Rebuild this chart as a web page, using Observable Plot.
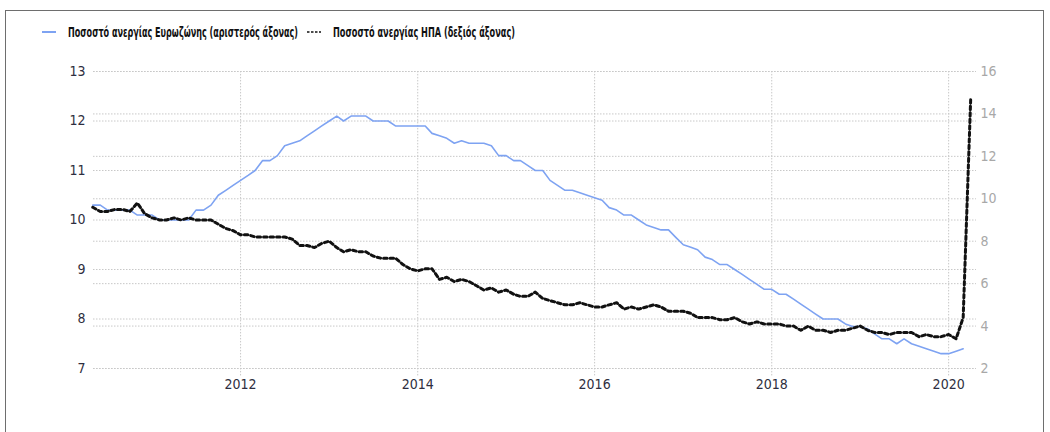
<!DOCTYPE html>
<html><head><meta charset="utf-8">
<script src="https://cdn.jsdelivr.net/npm/d3@7"></script>
<script src="https://cdn.jsdelivr.net/npm/@observablehq/plot@0.6"></script>
<style>
body{margin:0;background:#fff;}
#wrap{position:relative;width:1050px;height:432px;overflow:hidden;font-family:"DejaVu Sans Condensed","Liberation Sans",Arial,sans-serif;}
#frame{position:absolute;left:5px;top:10px;width:1037px;height:440px;border:1.5px solid #6e6e6e;border-bottom:none;pointer-events:none;}
#legend{position:absolute;left:0;top:0;height:50px;width:1050px;}
.item{position:absolute;top:23px;height:18px;font-weight:bold;font-size:14px;color:#111;white-space:nowrap;display:flex;align-items:center;}
.item svg{margin-right:12px;flex:none;}
.item span{display:inline-block;transform-origin:0 50%;}
#chart{position:absolute;left:0;top:50px;}
</style></head>
<body>
<div id="wrap">
  <div id="legend">
    <div class="item" style="left:42px"><svg width="14" height="4"><line x1="0" y1="2" x2="14" y2="2" stroke="#7ea3f2" stroke-width="2"/></svg><span id="l1"></span></div>
    <div class="item" style="left:307px"><svg width="14" height="4"><line x1="0" y1="2" x2="14" y2="2" stroke="#111" stroke-width="1.6" stroke-dasharray="2.5,1.5"/></svg><span id="l2"></span></div>
  </div>
  <div id="chart"></div>
  <div id="frame"></div>
</div>
<script>
// ---- data (monthly, starting May 2010) ----
const seriesNames = ["Ποσοστό ανεργίας Ευρωζώνης  (αριστερός άξονας)", "Ποσοστό ανεργίας ΗΠΑ  (δεξιός άξονας)"];
const startYear = 2010, startMonth = 4; // May (0-based)
const euroRate = [
  10.3,10.3,10.2,10.2,10.2,10.2,10.1,10.1,
  10.1,10.0,10.0,10.0,10.0,10.0,10.2,10.2,10.3,10.5,10.6,10.7,
  10.8,10.9,11.0,11.2,11.2,11.3,11.5,11.55,11.6,11.7,11.8,11.9,
  12.0,12.1,12.0,12.1,12.1,12.1,12.0,12.0,12.0,11.9,11.9,11.9,
  11.9,11.9,11.75,11.7,11.65,11.55,11.6,11.55,11.55,11.55,11.5,11.3,
  11.3,11.2,11.2,11.1,11.0,11.0,10.8,10.7,10.6,10.6,10.55,10.5,
  10.45,10.4,10.25,10.2,10.1,10.1,10.0,9.9,9.85,9.8,9.8,9.65,
  9.5,9.45,9.4,9.25,9.2,9.1,9.1,9.0,8.9,8.8,8.7,8.6,
  8.6,8.5,8.5,8.4,8.3,8.2,8.1,8.0,8.0,8.0,7.9,7.85,
  7.85,7.8,7.7,7.6,7.6,7.5,7.6,7.5,7.45,7.4,7.35,7.3,
  7.3,7.35,7.4
];
const usRate = [
  9.6,9.4,9.4,9.5,9.5,9.4,9.8,9.3,
  9.1,9.0,9.0,9.1,9.0,9.1,9.0,9.0,9.0,8.8,8.6,8.5,
  8.3,8.3,8.2,8.2,8.2,8.2,8.2,8.1,7.8,7.8,7.7,7.9,
  8.0,7.7,7.5,7.6,7.5,7.5,7.3,7.2,7.2,7.2,6.9,6.7,
  6.6,6.7,6.7,6.2,6.3,6.1,6.2,6.1,5.9,5.7,5.8,5.6,
  5.7,5.5,5.4,5.4,5.6,5.3,5.2,5.1,5.0,5.0,5.1,5.0,
  4.9,4.9,5.0,5.1,4.8,4.9,4.8,4.9,5.0,4.9,4.7,4.7,
  4.7,4.6,4.4,4.4,4.4,4.3,4.3,4.4,4.2,4.1,4.2,4.1,
  4.1,4.1,4.0,4.0,3.8,4.0,3.8,3.8,3.7,3.8,3.8,3.9,
  4.0,3.8,3.7,3.7,3.6,3.7,3.7,3.7,3.5,3.6,3.5,3.5,
  3.6,3.4,4.4,14.7
];
const leftTicks = [7,8,9,10,11,12,13];
const rightTicks = [2,4,6,8,10,12,14,16];
const yearTicks = [2012,2014,2016,2018,2020];

// ---- legend ----
const legendWidths = [230, 182];
["l1","l2"].forEach((id, k) => {
  const el = document.getElementById(id);
  el.textContent = seriesNames[k];
  const w = el.getBoundingClientRect().width;
  el.style.transform = `scaleX(${legendWidths[k] / w})`;
  el.style.width = w + "px";
  el.parentNode.style.width = (26 + legendWidths[k]) + "px";
});

// ---- chart ----
const monthDate = i => new Date(Date.UTC(startYear, startMonth + i, 1));
const toLeft = u => 7 + (u - 2) * 6 / 14;   // right axis [2,16] -> left axis [7,13]
const toRight = v => 2 + (v - 7) * 14 / 6;
const euro = euroRate.map((v, i) => ({date: monthDate(i), v}));
const us = usRate.map((u, i) => ({date: monthDate(i), v: toLeft(u)}));
const yearDates = yearTicks.map(y => new Date(Date.UTC(y, 0, 1)));
const grid = {stroke: "#c8c8c8", strokeDasharray: "1.5,1.5", strokeWidth: 1};

const chart = Plot.plot({
  width: 1050, height: 382,
  marginTop: 21, marginBottom: 64, marginLeft: 93, marginRight: 74,
  style: {fontFamily: '"DejaVu Sans Condensed","Liberation Sans",Arial,sans-serif', fontSize: "14px", background: "transparent", overflow: "visible"},
  x: {type: "utc", domain: [new Date(Date.UTC(2010,4,4)), new Date(Date.UTC(2020,3,25))]},
  y: {domain: [7, 13]},
  marks: [
    Plot.ruleY(leftTicks, grid),
    Plot.ruleY(rightTicks.map(toLeft), grid),
    Plot.ruleX(yearDates, {...grid, y1: 6.85, y2: 13}),
    Plot.line(euro, {x: "date", y: "v", stroke: "#7ea3f2", strokeWidth: 1.6}),
    Plot.line(us, {x: "date", y: "v", stroke: "#111", strokeWidth: 3, strokeDasharray: "3.5,3"}),
    Plot.axisY(leftTicks, {anchor: "left", tickSize: 0, tickPadding: 8, label: null, color: "#2e2e40", tickFormat: d => String(d)}),
    Plot.axisY(rightTicks.map(toLeft), {anchor: "right", tickSize: 0, tickPadding: 4, label: null, color: "#a8a8a8", tickFormat: v => String(Math.round(toRight(v)))}),
    Plot.axisX(yearDates, {tickSize: 0, tickPadding: 11, label: null, tickFormat: d3.utcFormat("%Y"), color: "#2e2e40"})
  ]
});
document.getElementById("chart").appendChild(chart);
</script>
</body></html>
